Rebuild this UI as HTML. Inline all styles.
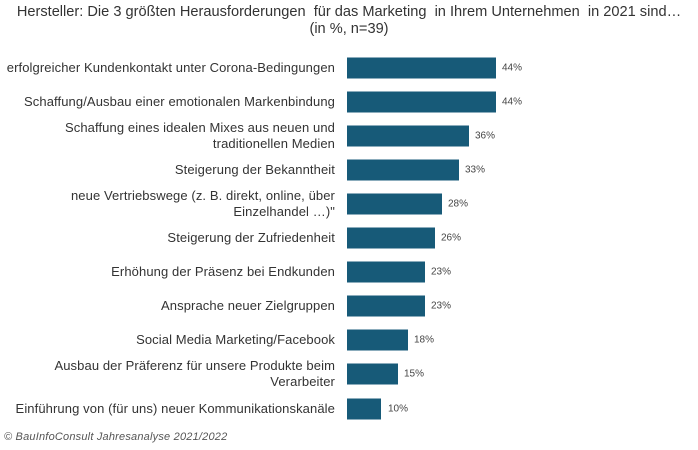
<!DOCTYPE html>
<html><head><meta charset="utf-8"><style>
body{margin:0;background:#fff;width:698px;height:450px;position:relative;overflow:hidden;font-family:"Liberation Sans",sans-serif;color:#333}
.t{position:absolute;left:0;width:698px;text-align:center;font-size:14.6px;letter-spacing:0}
.l{position:absolute;right:363px;width:360px;text-align:right;font-size:13px;line-height:16px;letter-spacing:0.1px;transform:translateY(-50%)}
.b{position:absolute;left:347px;height:21px;background:#175a78;transform:translateY(-50%)}
.p{position:absolute;font-size:10px;transform:translateY(-50%);color:#444}
.f{position:absolute;left:4px;top:431px;font-size:11px;letter-spacing:0.2px;font-style:italic;color:#555}
</style></head><body>
<div class="t" style="top:4px">Hersteller: Die 3 größten Herausforderungen &nbsp;für das Marketing &nbsp;in Ihrem Unternehmen &nbsp;in 2021 sind…</div>
<div class="t" style="top:21px">(in %, n=39)</div>
<div class="l" style="top:68px">erfolgreicher Kundenkontakt unter Corona-Bedingungen</div><div class="b" style="top:68px;width:149px"></div><div class="p" style="top:68px;left:502px">44%</div>
<div class="l" style="top:102px">Schaffung/Ausbau einer emotionalen Markenbindung</div><div class="b" style="top:102px;width:149px"></div><div class="p" style="top:102px;left:502px">44%</div>
<div class="l" style="top:136px">Schaffung eines idealen Mixes aus neuen und<br>traditionellen Medien</div><div class="b" style="top:136px;width:122px"></div><div class="p" style="top:136px;left:475px">36%</div>
<div class="l" style="top:170px">Steigerung der Bekanntheit</div><div class="b" style="top:170px;width:112px"></div><div class="p" style="top:170px;left:465px">33%</div>
<div class="l" style="top:204px">neue Vertriebswege (z. B. direkt, online, über<br>Einzelhandel …)"</div><div class="b" style="top:204px;width:95px"></div><div class="p" style="top:204px;left:448px">28%</div>
<div class="l" style="top:238px">Steigerung der Zufriedenheit</div><div class="b" style="top:238px;width:88px"></div><div class="p" style="top:238px;left:441px">26%</div>
<div class="l" style="top:272px">Erhöhung der Präsenz bei Endkunden</div><div class="b" style="top:272px;width:78px"></div><div class="p" style="top:272px;left:431px">23%</div>
<div class="l" style="top:306px">Ansprache neuer Zielgruppen</div><div class="b" style="top:306px;width:78px"></div><div class="p" style="top:306px;left:431px">23%</div>
<div class="l" style="top:340px">Social Media Marketing/Facebook</div><div class="b" style="top:340px;width:61px"></div><div class="p" style="top:340px;left:414px">18%</div>
<div class="l" style="top:374px">Ausbau der Präferenz für unsere Produkte beim<br>Verarbeiter</div><div class="b" style="top:374px;width:51px"></div><div class="p" style="top:374px;left:404px">15%</div>
<div class="l" style="top:409px">Einführung von (für uns) neuer Kommunikationskanäle</div><div class="b" style="top:409px;width:34px"></div><div class="p" style="top:409px;left:388px">10%</div>
<div class="f">© BauInfoConsult Jahresanalyse 2021/2022</div>
</body></html>
